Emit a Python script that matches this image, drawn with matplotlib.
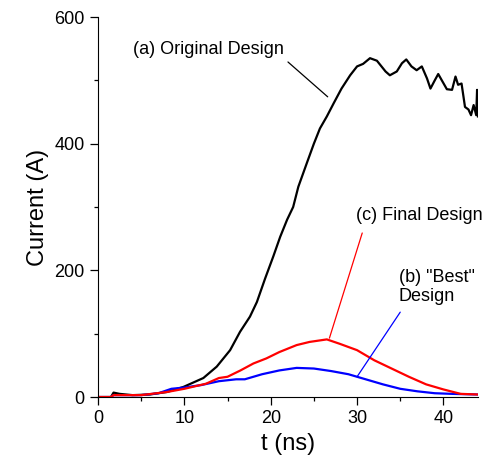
import numpy as np
import matplotlib
matplotlib.use('Agg')
import matplotlib.pyplot as plt
from matplotlib.ticker import MultipleLocator

plt.rcParams['font.family'] = ['Liberation Sans', 'DejaVu Sans']

## (a) original design
t_a = [0, 1.5, 1.8, 2.5, 4, 6, 8, 9.9, 12.2, 13.75, 15.3, 16.45, 17.6, 18.4, 19.35,
       20.3, 21.1, 21.9, 22.6, 23.2, 24.2, 25.0, 25.7, 26.5, 27.3, 28.2, 29.2,
       30.0, 30.7, 31.5, 32.3, 33.3, 33.8, 34.6, 35.2, 35.7, 36.3, 36.9, 37.5,
       38.1, 38.5, 39.0, 39.4, 40.4, 41.0, 41.4, 41.7, 42.1, 42.5, 42.9, 43.2,
       43.5, 43.8, 43.9, 44.0]
i_a = [0, 0, 7, 5, 3, 4, 8, 16, 30, 48, 74, 103, 127, 150, 187,
       222, 253, 280, 300, 332, 370, 400, 424, 443, 464, 487, 508,
       522, 526, 535, 531, 514, 508, 514, 527, 533, 522, 516, 522,
       503, 487, 500, 510, 486, 485, 506, 493, 495, 458, 454, 445,
       461, 445, 485, 443]

## (b) "Best" design
t_b = [0, 1.5, 1.8, 3, 5, 7, 8.5, 10, 12, 14, 16, 17, 19, 21, 23, 25, 27,
       29, 31, 33, 35, 37, 39, 41, 44]
i_b = [0, 0, 3, 3, 3, 6, 13, 15, 19, 25, 28, 28, 36, 42, 46, 45, 41,
       36, 28, 20, 13, 9, 6, 5, 4]

## (c) final design
t_c = [0, 1.5, 1.8, 3, 5, 8, 10, 12.5, 14, 15, 16.5, 18, 19.5, 21, 23,
       24.5, 26.5, 28, 30, 32, 34, 36, 38, 40, 42, 44]
i_c = [0, 0, 3, 3, 3, 8, 13, 21, 30, 32, 42, 53, 61, 71, 82,
       87, 91, 84, 74, 58, 45, 32, 20, 12, 5, 4]

fig = plt.figure(figsize=(4.89, 4.66), dpi=100)
ax = fig.add_axes([0.2004, 0.148, 0.777, 0.8155])

ax.plot(t_a, i_a, color='black', lw=1.6)
ax.plot(t_b, i_b, color='blue', lw=1.6)
ax.plot(t_c, i_c, color='red', lw=1.6)

##labels with leader lines
ax.text(4.06, 548, '(a) Original Design', fontsize=13, va='center', ha='left')
ax.annotate('', xy=(26.6, 474), xytext=(22.0, 529),
            arrowprops=dict(arrowstyle='-', color='black', lw=0.9, shrinkA=0, shrinkB=0))
ax.text(29.9, 287, '(c) Final Design', fontsize=13, va='center', ha='left')
ax.annotate('', xy=(26.8, 93), xytext=(30.6, 259),
            arrowprops=dict(arrowstyle='-', color='red', lw=0.9, shrinkA=0, shrinkB=0))
ax.text(34.8, 174, '(b) "Best"\nDesign', fontsize=13, va='center', ha='left')
ax.annotate('', xy=(30.0, 32), xytext=(35.0, 134),
            arrowprops=dict(arrowstyle='-', color='blue', lw=0.9, shrinkA=0, shrinkB=0))

ax.set_xlim(0, 44)
ax.set_ylim(0, 600)
ax.xaxis.set_major_locator(MultipleLocator(10))
ax.xaxis.set_minor_locator(MultipleLocator(5))
ax.yaxis.set_major_locator(MultipleLocator(200))
ax.yaxis.set_minor_locator(MultipleLocator(100))
ax.tick_params(which='major', direction='out', length=6, width=0.9, labelsize=13)
ax.tick_params(which='minor', direction='out', length=3, width=0.9)
ax.spines['top'].set_visible(False)
ax.spines['right'].set_visible(False)
ax.set_xlabel('t (ns)', fontsize=17)
ax.set_ylabel('Current (A)', fontsize=17)

fig.savefig('out.png', dpi=100)
